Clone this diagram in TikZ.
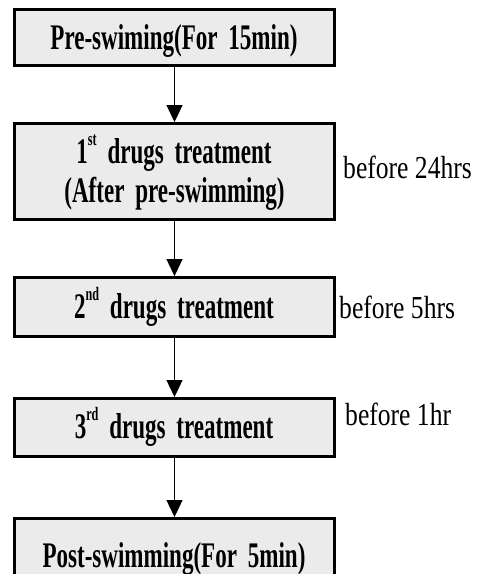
\documentclass[tikz,border=0pt]{standalone}
\usepackage{fontspec}
\usetikzlibrary{arrows.meta,shadows}
\newfontfamily\boxfont[FakeStretch=0.64]{Liberation Serif}
\newfontfamily\sidefont[FakeStretch=0.8]{Liberation Serif}
\definecolor{boxgray}{HTML}{EBEBEB}
\newcommand{\boxfmt}{\boxfont\bfseries\fontsize{36}{39}\selectfont\spaceskip 0.3em\relax}
\newcommand{\sidefmt}{\sidefont\fontsize{32}{36}\selectfont}
\tikzset{
  flowbox/.style={draw=black, line width=3pt, fill=boxgray, rectangle, minimum width=320pt, inner sep=0pt,
    drop shadow={shadow xshift=-1.6pt, shadow yshift=-1.8pt, opacity=1, fill=black}},
  boxtext/.style={anchor=base, inner sep=0pt, font=\boxfmt},
  sidetext/.style={anchor=base west, inner sep=0pt, font=\sidefmt},
  flowarrow/.style={line width=1pt, -{Triangle[width=16pt,length=17pt]}}
}
\newcommand{\supx}[1]{\raisebox{0.5em}{\fontsize{19}{19}\selectfont #1}}
\begin{document}
\begin{tikzpicture}[x=1pt,y=-1pt]
\useasboundingbox (0,0) rectangle (479,574);
\node[flowbox, minimum height=55.5pt] (b1) at (174.5,37.3) {};
\node[flowbox, minimum height=95.5pt] (b2) at (174.5,171.3) {};
\node[flowbox, minimum height=58.5pt] (b3) at (174.5,306.8) {};
\node[flowbox, minimum height=57.5pt] (b4) at (174.5,427.3) {};
\node[flowbox, minimum height=81.5pt] (b5) at (174.5,559.3) {};

\node[boxtext] (t1) at (174,49) {Pre-swiming(For 15min)};
\node[boxtext] (t2a) at (174,163) {1\supx{st} drugs treatment};
\node[boxtext] (t2b) at (174.5,202) {(After pre-swimming)};
\node[boxtext] (t3) at (174,318) {2\supx{nd} drugs treatment};
\node[boxtext] (t4) at (174,438) {3\supx{rd} drugs treatment};
\node[boxtext] (t5) at (174,567) {Post-swimming(For 5min)};

\node[sidetext] (s2) at (343,178) {before 24hrs};
\node[sidetext] (s3) at (339,318) {before 5hrs};
\node[sidetext] (s4) at (345,425) {before 1hr};

\draw[flowarrow] (b1.south) -- (b2.north);
\draw[flowarrow] (b2.south) -- (b3.north);
\draw[flowarrow] (b3.south) -- (b4.north);
\draw[flowarrow] (b4.south) -- (b5.north);
\end{tikzpicture}
\end{document}
